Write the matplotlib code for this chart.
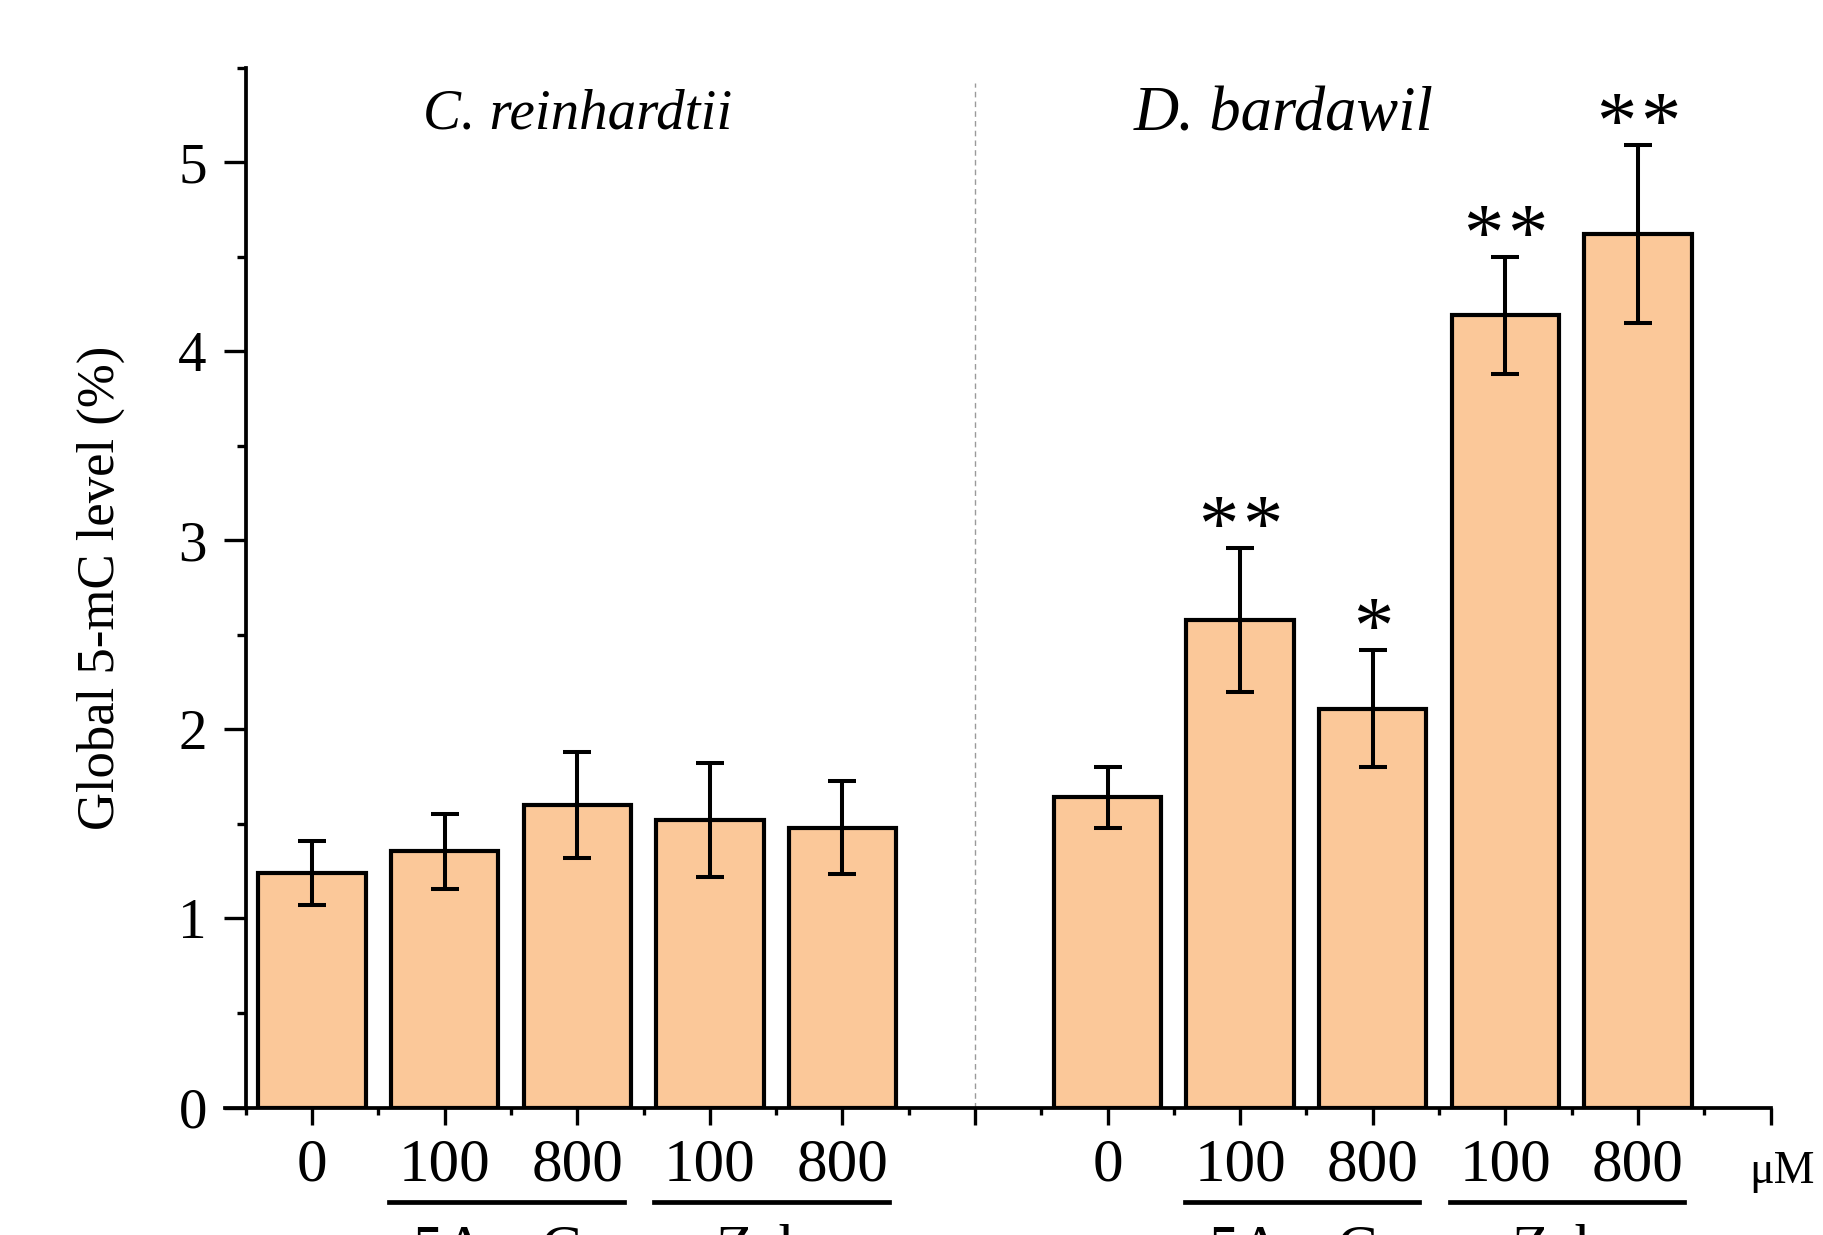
import matplotlib.pyplot as plt
import numpy as np
from matplotlib.ticker import FixedLocator, MultipleLocator

# values (global 5-mC, %)
doses = ['0', '100', '800', '100', '800']
groups = ['5AzaC', 'Zeb']
cr_mean = [1.24, 1.355, 1.60, 1.52, 1.48]
cr_err = [0.17, 0.20, 0.28, 0.30, 0.245]
db_mean = [1.64, 2.58, 2.11, 4.19, 4.62]
db_err = [0.16, 0.38, 0.31, 0.31, 0.47]
db_stars = [0, 2, 1, 2, 2]

plt.rcParams['font.family'] = ['Liberation Serif', 'DejaVu Serif']

BAR_COLOR = '#FBC899'

fig = plt.figure(figsize=(18.24, 12.35), dpi=100)
ax = fig.add_axes([0.1231, 0.1032, 0.8476, 0.8421])

cr_x = np.arange(1, 6)
db_x = np.arange(7, 12)

for xs, means, errs in [(cr_x, cr_mean, cr_err), (db_x, db_mean, db_err)]:
    ax.bar(xs, means, width=0.81, color=BAR_COLOR, edgecolor='black', linewidth=3.0, zorder=2)
    ax.errorbar(xs, means, yerr=errs, fmt='none', ecolor='black', elinewidth=2.9,
                capsize=10, capthick=2.9, zorder=3)

# significance marks, each star drawn on its own so the gap matches
for x, m, e, n in zip(db_x, db_mean, db_err, db_stars):
    if n == 0:
        continue
    offsets = [0.0] if n == 1 else [-0.165, 0.165]
    for dx in offsets:
        ax.text(x + dx, m + e - 0.10, '*', ha='center', va='bottom', fontsize=58)

# divider between the two species
ax.plot([6, 6], [0, 5.42], color='#9a9a9a', lw=1.0, ls=(0, (4, 3)), zorder=1)

ax.text(3.0, 5.25, 'C. reinhardtii', style='italic', fontsize=41, ha='center', va='center')
ax.text(8.33, 5.25, 'D. bardawil', style='italic', fontsize=45, ha='center', va='center')

ax.set_xlim(0.34, 12)
ax.set_ylim(0, 5.5)

for s in ['top', 'right']:
    ax.spines[s].set_visible(False)
ax.spines['left'].set_position(('data', 0.5))
ax.spines['left'].set_linewidth(2.7)
ax.spines['bottom'].set_linewidth(2.7)

ax.yaxis.set_major_locator(MultipleLocator(1))
ax.yaxis.set_minor_locator(MultipleLocator(0.5))
ax.tick_params(axis='y', which='major', length=16, width=2.4, labelsize=41, pad=12)
ax.tick_params(axis='y', which='minor', length=6.5, width=2.4)

ax.xaxis.set_major_locator(FixedLocator(np.arange(1, 13)))
ax.xaxis.set_minor_locator(FixedLocator(np.arange(0.5, 12, 1.0)))
ax.set_xticklabels(doses + [''] + doses + [''])
ax.tick_params(axis='x', which='major', length=12, width=2.4, labelsize=44, pad=10)
ax.tick_params(axis='x', which='minor', length=5, width=2.4)

ax.set_ylabel('Global 5-mC level (%)', fontsize=38, labelpad=38)

tr = ax.get_xaxis_transform()
ax.text(12.09, -0.0726, 'μM', fontsize=33, ha='center', va='baseline', transform=tr)

# treatment underlines and names
for start in [1.5, 7.5]:
    for k, name in enumerate(groups):
        lo = start + 2 * k + 0.08
        ax.plot([lo, lo + 1.77], [-0.0909, -0.0909], color='black', lw=3.4,
                transform=tr, clip_on=False)
        ax.text(start + 2 * k + 0.9, -0.112, name, fontsize=44, ha='center', va='top',
                transform=tr)

fig.savefig('out.png', dpi=100)
